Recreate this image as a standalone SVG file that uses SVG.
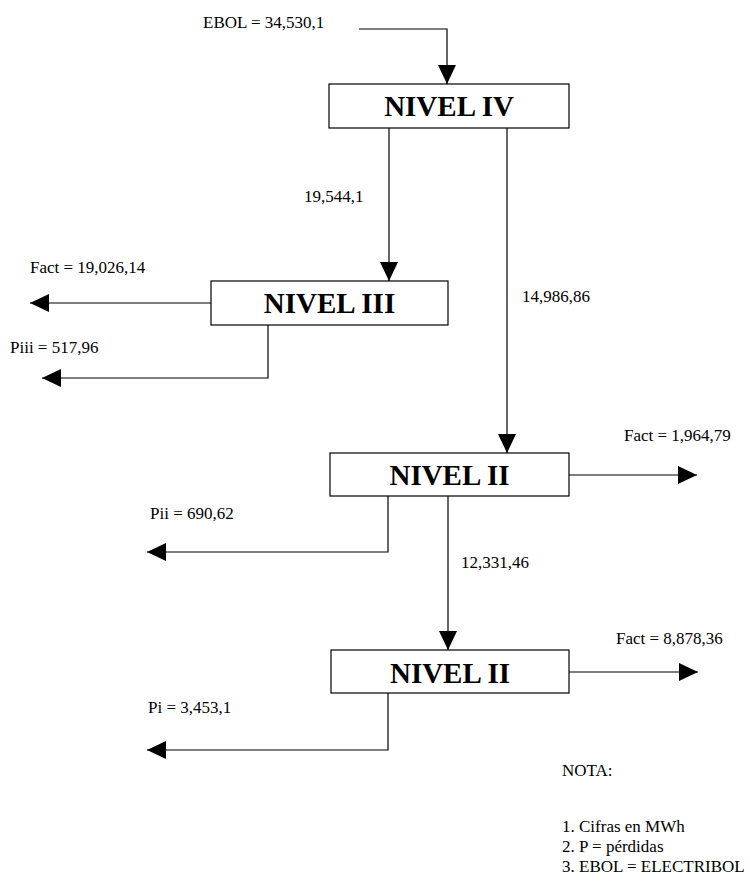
<svg xmlns="http://www.w3.org/2000/svg" width="750" height="883" viewBox="0 0 750 883">
<style>
.box{fill:#fff;stroke:#000;stroke-width:1.2}
.ttl{font-family:"Liberation Serif","Times New Roman",serif;font-weight:bold;font-size:29px;text-anchor:middle;fill:#000}
.lbl{font-family:"Liberation Serif","Times New Roman",serif;font-size:17px;fill:#000}
.ln{fill:none;stroke:#000;stroke-width:1.2}
</style>
<defs>
<marker id="arr" viewBox="0 0 19 18" markerWidth="19" markerHeight="18" refX="19" refY="9" orient="auto" markerUnits="userSpaceOnUse">
<path d="M0,0 L19,9 L0,18 z" fill="#000"/>
</marker>
</defs>
<rect width="750" height="883" fill="#fff"/>
<g id="connectors">
<path class="ln" d="M359,29 H447 V84" marker-end="url(#arr)"/>
<path class="ln" d="M389,128 V281" marker-end="url(#arr)"/>
<path class="ln" d="M507,128 V453" marker-end="url(#arr)"/>
<path class="ln" d="M211,303 H30" marker-end="url(#arr)"/>
<path class="ln" d="M268,325 V378 H42" marker-end="url(#arr)"/>
<path class="ln" d="M569,475 H697" marker-end="url(#arr)"/>
<path class="ln" d="M388,496 V552 H147" marker-end="url(#arr)"/>
<path class="ln" d="M448,496 V650" marker-end="url(#arr)"/>
<path class="ln" d="M569,672 H698" marker-end="url(#arr)"/>
<path class="ln" d="M388,693 V750 H147" marker-end="url(#arr)"/>
</g>
<g id="labels">
<text class="lbl" x="203" y="28">EBOL = 34,530,1</text>
<text class="lbl" x="304" y="202">19,544,1</text>
<text class="lbl" x="522" y="302">14,986,86</text>
<text class="lbl" x="30" y="273">Fact = 19,026,14</text>
<text class="lbl" x="10" y="353">Piii = 517,96</text>
<text class="lbl" x="624" y="441">Fact = 1,964,79</text>
<text class="lbl" x="150" y="519">Pii = 690,62</text>
<text class="lbl" x="461" y="568">12,331,46</text>
<text class="lbl" x="616" y="644">Fact = 8,878,36</text>
<text class="lbl" x="148" y="713">Pi = 3,453,1</text>
</g>
<g id="nivel-iv">
<rect class="box" x="329" y="84" width="240" height="44"/>
<text class="ttl" x="449" y="116">NIVEL IV</text>
</g>
<g id="nivel-iii">
<rect class="box" x="211" y="281" width="237" height="44"/>
<text class="ttl" x="329.5" y="313">NIVEL III</text>
</g>
<g id="nivel-ii-a">
<rect class="box" x="330" y="453" width="239" height="43"/>
<text class="ttl" x="449.5" y="485">NIVEL II</text>
</g>
<g id="nivel-ii-b">
<rect class="box" x="331" y="650" width="238" height="43"/>
<text class="ttl" x="450" y="683">NIVEL II</text>
</g>
<g id="nota">
<text class="lbl" x="562" y="776">NOTA:</text>
<text class="lbl" x="562" y="832">1. Cifras en MWh</text>
<text class="lbl" x="562" y="852">2. P = pérdidas</text>
<text class="lbl" x="562" y="872">3. EBOL = ELECTRIBOL</text>
</g>
</svg>
